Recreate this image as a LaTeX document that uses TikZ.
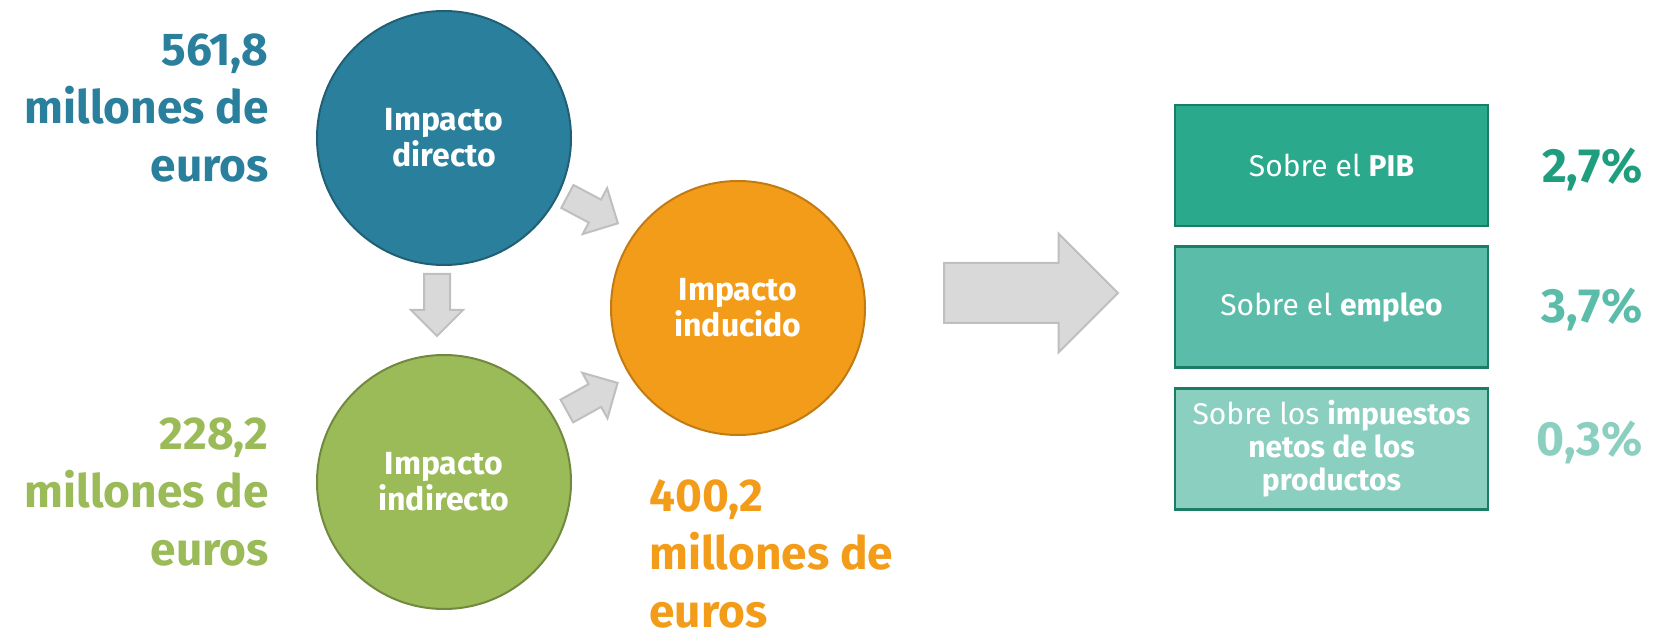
\documentclass[tikz,border=0pt]{standalone}
\usepackage{fontspec}
\setmainfont{Fira Sans}
\usetikzlibrary{shapes.arrows,positioning}
\definecolor{blueimp}{HTML}{2A7F9C}
\definecolor{blueedge}{HTML}{215F75}
\definecolor{greenimp}{HTML}{9BBB59}
\definecolor{greenedge}{HTML}{71893F}
\definecolor{orangeimp}{HTML}{F39C19}
\definecolor{orangeedge}{HTML}{C27A12}
\definecolor{arrowgray}{HTML}{D9D9D9}
\definecolor{arrowedge}{HTML}{BFBFBF}
\definecolor{tealA}{HTML}{2BA98C}
\definecolor{tealB}{HTML}{5BBDA9}
\definecolor{tealC}{HTML}{8BCFC0}
\definecolor{tealedge}{HTML}{1A7D64}
\definecolor{tealtext}{HTML}{1E9E7E}
\begin{document}
\begin{tikzpicture}[x=0.5pt,y=-0.5pt]
\tikzstyle{impact} = [circle, draw, line width=1pt, minimum size=127pt, inner sep=0pt, text=white, align=center, font=\bfseries\fontsize{16}{18}\selectfont]
\tikzstyle{amount} = [inner sep=0pt, font=\bfseries\fontsize{23}{29}\selectfont]
\tikzstyle{blockarrow} = [single arrow, draw=arrowedge, fill=arrowgray, line width=1pt, inner xsep=0pt, inner ysep=6pt, single arrow head extend=6.5pt, anchor=tail]
\tikzstyle{effect} = [rectangle, draw=tealedge, line width=1.3pt, minimum width=156.5pt, minimum height=60.5pt, text=white, align=center, font=\fontsize{15}{16.5}\selectfont]
\tikzstyle{pct} = [anchor=base east, inner sep=0pt, font=\bfseries\fontsize{24}{28}\selectfont]
\useasboundingbox (0,0) rectangle (1655,636);

% the three impacts
\node[impact, fill=blueimp, draw=blueedge] (direct) at (444,138) {Impacto\\directo};
\node[impact, fill=greenimp, draw=greenedge] (indirect) at (444,482) {Impacto\\indirecto};
\node[impact, fill=orangeimp, draw=orangeedge] (induced) at (738,308) {Impacto\\inducido};

% amounts (base = last line)
\node[amount, text=blueimp, align=right, anchor=base east] (directamt) at (269,182) {561,8\\millones de\\euros};
\node[amount, text=greenimp, align=right, anchor=base east] (indirectamt) at (269,565) {228,2\\millones de\\euros};
\node[amount, text=orangeimp, align=left, anchor=base west] (inducedamt) at (649,627) {400,2\\millones de\\euros};

% gray arrows between the circles
\node[blockarrow, rotate=-90, minimum height=31pt] (downarrow) at (437,273) {};
\node[blockarrow, rotate=-28, minimum height=28.6pt] (toparrow) at (566.5,196) {};
\node[blockarrow, rotate=29, minimum height=29pt] (lowarrow) at (566,411.5) {};
\node[blockarrow, minimum height=87pt, inner ysep=14.5pt, single arrow head extend=14.75pt] (bigarrow) at (943,293) {};

% effects
\node[effect, fill=tealA] (gdp) at (1331.5,165.5) {Sobre el \textbf{PIB}};
\node[effect, fill=tealB, below=9pt of gdp] (jobs) {Sobre el \textbf{empleo}};
\node[effect, fill=tealC, below=9pt of jobs] (taxes) {Sobre los \textbf{impuestos}\\\textbf{netos de los}\\\textbf{productos}};

\node[pct, text=tealtext] (gdppct) at (1643,183) {2,7\%};
\node[pct, text=tealB] (jobspct) at (1643,322) {3,7\%};
\node[pct, text=tealC] (taxespct) at (1643,455) {0,3\%};
\end{tikzpicture}
\end{document}
